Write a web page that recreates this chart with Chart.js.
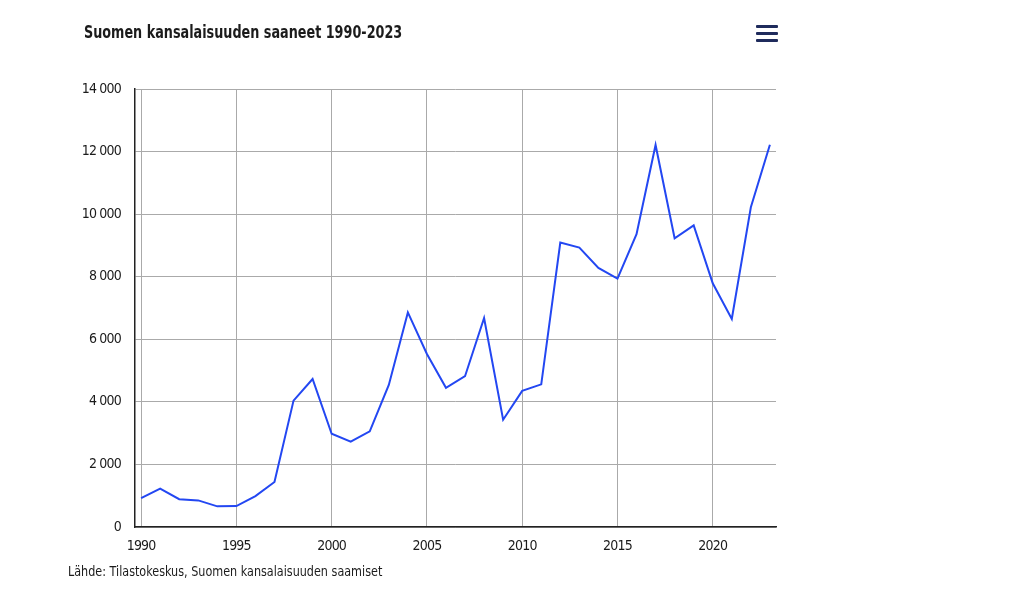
<!DOCTYPE html>
<html><head><meta charset="utf-8">
<script src="https://cdn.jsdelivr.net/npm/chart.js@4/dist/chart.umd.min.js"></script>
<style>
html,body{margin:0;padding:0;background:#fff;}
#wrap{position:relative;width:1024px;height:593px;overflow:hidden;}
#c{position:absolute;left:0;top:0;}
.t{position:absolute;font-family:"DejaVu Sans Condensed","DejaVu Sans",sans-serif;color:#1b1b1b;white-space:nowrap;transform-origin:0 50%;}
#title{left:84px;top:21px;font-size:18px;font-weight:600;transform:scaleX(0.79);}
#src{left:68px;top:563px;font-size:14px;transform:scaleX(0.89);}
#menu{position:absolute;left:756px;top:25px;width:22px;}
#menu div{height:3px;background:#1f2b5c;margin-bottom:4px;border-radius:1px;}
</style></head>
<body><div id="wrap">
<canvas id="c" width="1024" height="593"></canvas>
<div class="t" id="title">Suomen kansalaisuuden saaneet 1990-2023</div>
<div id="menu"><div></div><div></div><div></div></div>
<div class="t" id="src">Lähde: Tilastokeskus, Suomen kansalaisuuden saamiset</div>
</div>
<script>
const years = [1990,1991,1992,1993,1994,1995,1996,1997,1998,1999,2000,2001,2002,2003,2004,2005,2006,2007,2008,2009,2010,2011,2012,2013,2014,2015,2016,2017,2018,2019,2020,2021,2022,2023];
const values = [920,1230,890,850,660,670,990,1440,4040,4730,2980,2730,3060,4540,6860,5530,4450,4820,6680,3430,4350,4560,9090,8930,8280,7940,9360,12210,9230,9640,7790,6650,10220,12220];
const xTickLabels = [1990,1995,2000,2005,2010,2015,2020];
const yTickValues = [0,2000,4000,6000,8000,10000,12000,14000];

const FONT = '"DejaVu Sans Condensed","DejaVu Sans",sans-serif';
const points = years.map((y,i)=>({x:y,y:values[i]}));
const tightText = {
  id:'tightText',
  beforeDraw(chart){ try{ chart.ctx.letterSpacing='-0.8px'; }catch(e){} }
};
new Chart(document.getElementById('c'), {
  type:'line',
  data:{datasets:[{data:points,borderColor:'#2347f2',borderWidth:2,pointRadius:0,tension:0,fill:false}]},
  plugins:[tightText],
  options:{
    responsive:false,animation:false,
    layout:{padding:{left:60,right:248,top:89,bottom:42}},
    plugins:{legend:{display:false},tooltip:{enabled:false}},
    scales:{
      x:{type:'linear',min:1989.68,max:2023.32,
        afterBuildTicks:s=>{s.ticks=xTickLabels.map(v=>({value:v}));},
        afterFit:s=>{s.height=24;},
        ticks:{color:'#1b1b1b',font:{family:FONT,size:14},padding:11,maxRotation:0,autoSkip:false,callback:v=>String(v)},
        grid:{color:'#aaaaaa',lineWidth:1,drawTicks:false},
        border:{color:'#222',width:1.5}
      },
      y:{min:0,max:14000,
        afterBuildTicks:s=>{s.ticks=yTickValues.map(v=>({value:v}));},
        afterFit:s=>{s.width=75;},
        ticks:{color:'#1b1b1b',font:{family:FONT,size:14},padding:14,
          callback:v=>String(v).replace(/\B(?=(\d{3})+(?!\d))/g,' ')},
        grid:{color:'#aaaaaa',lineWidth:1,drawTicks:false},
        border:{color:'#222',width:1.5}
      }
    }
  }
});
</script>
</body></html>
